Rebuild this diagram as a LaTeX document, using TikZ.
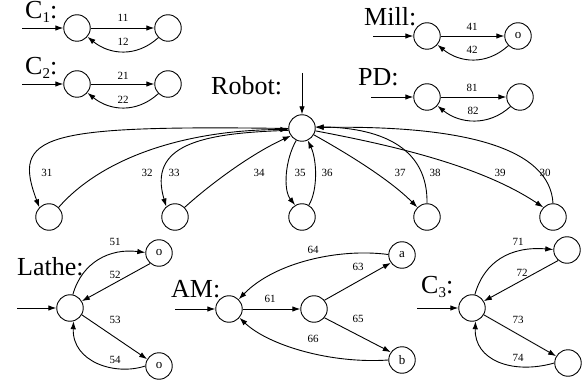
\documentclass[tikz,border=0pt]{standalone}
\usepackage{fontspec}
\setmainfont{Liberation Serif}
\usetikzlibrary{arrows.meta}
\newcommand{\sbs}[1]{\raisebox{-4pt}{\fontsize{15}{15}\selectfont #1}}
\begin{document}
\begin{tikzpicture}[x=1pt,y=-1pt,
  st/.style={circle,draw,line width=0.9pt,minimum size=26.5pt,inner sep=0pt,font=\fontsize{13}{13}\selectfont},
  e/.style={line width=0.9pt,-{Latex[length=8pt,width=5.5pt]}},
  lb/.style={inner sep=0pt,font=\fontsize{11}{11}\selectfont},
  big/.style={inner sep=0pt,anchor=base west,font=\fontsize{26}{26}\selectfont}]
\useasboundingbox (0,0) rectangle (587,385);
% ---------- C1 ----------
\node[big] (lc1) at (25,19) {C\sbs{1}:};
\node[st] (c1a) at (77,28) {};
\node[st] (c1b) at (168,28) {};
\coordinate (c1in) at (22,28);
\draw[e] (c1in) -- (c1a);
\draw[e] (c1a) -- (c1b);
\draw[e] (c1b.-135) .. controls +(-22,20) and +(22,18) .. (c1a.-40);
\node[lb] (l11) at (123,18) {11};
\node[lb] (l12) at (123,42) {12};
% ---------- C2 ----------
\node[big] (lc2) at (25,75) {C\sbs{2}:};
\node[st] (c2a) at (77,84) {};
\node[st] (c2b) at (168,84) {};
\coordinate (c2in) at (22,84);
\draw[e] (c2in) -- (c2a);
\draw[e] (c2a) -- (c2b);
\draw[e] (c2b.-135) .. controls +(-22,20) and +(22,18) .. (c2a.-40);
\node[lb] (l21) at (123,76) {21};
\node[lb] (l22) at (123,100) {22};
% ---------- Mill ----------
\node[big] (lmill) at (364,26) {Mill:};
\node[st] (ma) at (427,36) {};
\node[st] (mb) at (518,36) {o};
\coordinate (min) at (373,36);
\draw[e] (min) -- (ma);
\draw[e] (ma) -- (mb);
\draw[e] (mb.-135) .. controls +(-22,20) and +(22,18) .. (ma.-40);
\node[lb] (l41) at (472,27) {41};
\node[lb] (l42) at (472,50) {42};
% ---------- PD ----------
\node[big] (lpd) at (358,86) {PD:};
\node[st] (pa) at (427,97) {};
\node[st] (pb) at (520,97) {};
\coordinate (pin) at (371,97);
\draw[e] (pin) -- (pa);
\draw[e] (pa) -- (pb);
\draw[e] (pb.-135) .. controls +(-22,20) and +(22,18) .. (pa.-40);
\node[lb] (l81) at (472,88) {81};
\node[lb] (l82) at (473,111) {82};
% ---------- Robot ----------
\node[big] (lrob) at (211,95) {Robot:};
\node[st] (R) at (302,128) {};
\coordinate (rin) at (302,73);
\draw[e] (rin) -- (R);
\node[st] (b1) at (49,217) {};
\node[st] (b2) at (175,217) {};
\node[st] (b3) at (302,217) {};
\node[st] (b4) at (427,217) {};
\node[st] (b5) at (553,217) {};
\draw[e] (R.182) .. controls (40,125) and (12,135) .. (b1.135);
\draw[e] (b1.45) .. controls (100,160) and (180,130) .. (R.186);
\draw[e] (R.190) .. controls (200,133) and (148,145) .. (b2.130);
\draw[e] (b2.45) .. controls (215,180) and (255,152) .. (R.215);
\draw[e] (R.-115) .. controls (285,160) and (283,190) .. (b3.120);
\draw[e] (b3.60) .. controls (318,190) and (317,160) .. (R.-65);
\draw[e] (R.-30) .. controls (350,155) and (390,180) .. (b4.135);
\draw[e] (b4.90) .. controls (428,150) and (385,128) .. (R.5);
\draw[e] (R.-12) .. controls (390,145) and (480,165) .. (b5.135);
\draw[e] (b5.90) .. controls (550,150) and (470,125) .. (R.2);
\node[lb] (l31) at (47,173) {31};
\node[lb] (l32) at (147,173) {32};
\node[lb] (l33) at (174,173) {33};
\node[lb] (l34) at (259,173) {34};
\node[lb] (l35) at (300,173) {35};
\node[lb] (l36) at (327,173) {36};
\node[lb] (l37) at (400,173) {37};
\node[lb] (l38) at (435,173) {38};
\node[lb] (l39) at (500,173) {39};
\node[lb] (l30) at (545,173) {30};
% ---------- Lathe ----------
\node[big] (llathe) at (17,276) {Lathe:};
\node[st] (la) at (70,308) {};
\node[st] (lu) at (159,253) {o};
\node[st] (ld) at (159,366) {o};
\coordinate (lin) at (17,308);
\draw[e] (lin) -- (la);
\draw[e] (la.78) .. controls (82,262) and (110,248) .. (lu.178);
\draw[e] (lu.-130) -- (la.30);
\draw[e] (la.-30) -- (ld.150);
\draw[e] (ld.180) .. controls (115,376) and (72,362) .. (la.-75);
\node[lb] (l51) at (115,242) {51};
\node[lb] (l52) at (115,275) {52};
\node[lb] (l53) at (115,320) {53};
\node[lb] (l54) at (115,360) {54};
% ---------- AM ----------
\node[big] (lam) at (171,298) {AM:};
\node[st] (aa) at (229,309) {};
\node[st] (ab) at (314,309) {};
\node[st] (aA) at (402,255) {a};
\node[st] (aB) at (402,360) {b};
\coordinate (ain) at (175,309);
\draw[e] (ain) -- (aa);
\draw[e] (aa) -- (ab);
\draw[e] (ab.40) -- (aA.-145);
\draw[e] (ab.-40) -- (aB.145);
\draw[e] (aA.178) .. controls (340,248) and (275,262) .. (aa.45);
\draw[e] (aB.180) .. controls (330,364) and (268,345) .. (aa.-40);
\node[lb] (l61) at (270,299) {61};
\node[lb] (l63) at (358,267) {63};
\node[lb] (l64) at (313,250) {64};
\node[lb] (l65) at (358,319) {65};
\node[lb] (l66) at (313,339) {66};
% ---------- C3 ----------
\node[big] (lc3) at (421,294) {C\sbs{3}:};
\node[st] (ca) at (472,308) {};
\node[st] (cu) at (567,250) {};
\node[st] (cd) at (568,363) {};
\coordinate (cin) at (417,308);
\draw[e] (cin) -- (ca);
\draw[e] (ca.78) .. controls (484,262) and (510,246) .. (cu.178);
\draw[e] (cu.-130) -- (ca.30);
\draw[e] (ca.-30) -- (cd.150);
\draw[e] (cd.180) .. controls (512,375) and (474,360) .. (ca.-75);
\node[lb] (l71) at (518,242) {71};
\node[lb] (l72) at (522,273) {72};
\node[lb] (l73) at (518,320) {73};
\node[lb] (l74) at (518,358) {74};
\end{tikzpicture}
\end{document}
